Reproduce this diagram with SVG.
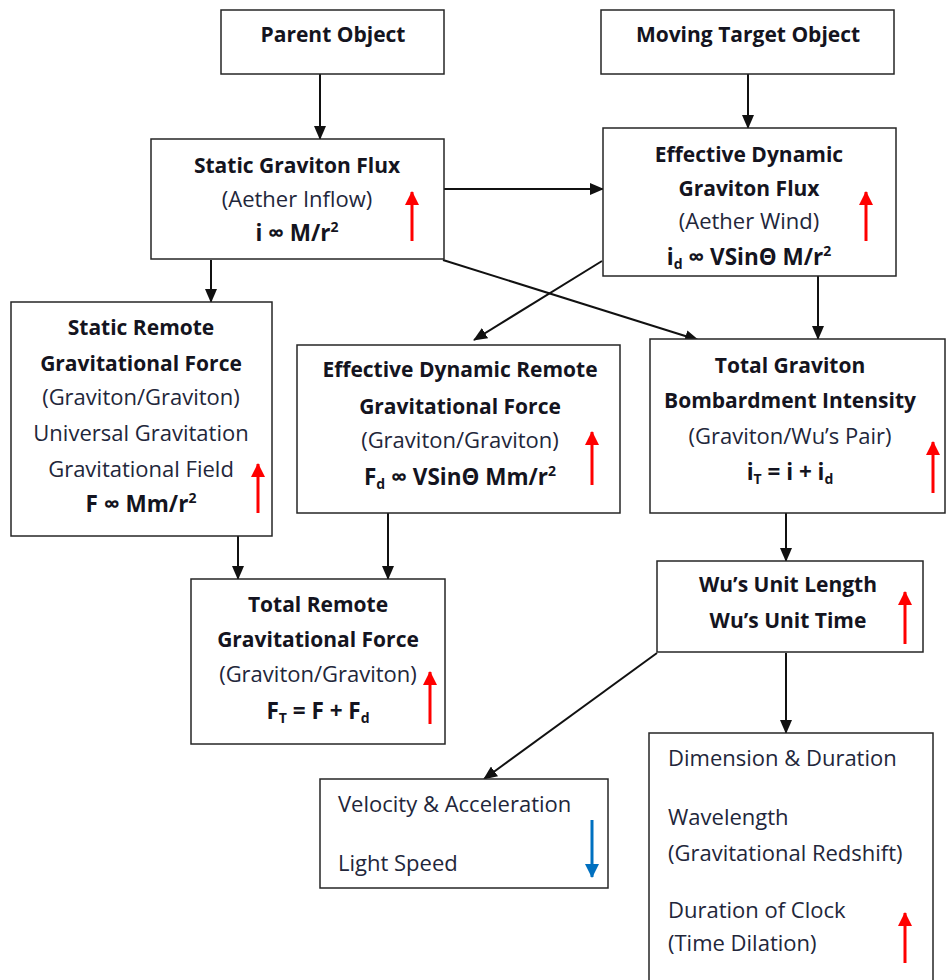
<svg xmlns="http://www.w3.org/2000/svg" width="946" height="980" viewBox="0 0 946 980">
<style>
.box{fill:#fff;stroke:#262626;stroke-width:1.5}
.b{font-family:"Open Sans",Lato,"Liberation Sans",sans-serif;font-weight:bold;font-size:21px;fill:#141420;text-anchor:middle}
.f{font-size:22.5px}
.r{font-family:"Open Sans",Lato,"Liberation Sans",sans-serif;font-size:22px;fill:#22263a;text-anchor:middle}
.l{font-family:"Open Sans",Lato,"Liberation Sans",sans-serif;font-size:22px;fill:#22263a}
.c{stroke:#111;stroke-width:2;fill:none;marker-end:url(#ah)}
.red{stroke:#ff0000;stroke-width:3;marker-end:url(#rh)}
.blue{stroke:#0070c0;stroke-width:3;marker-end:url(#bh)}
</style>
<defs>
<marker id="ah" markerWidth="14" markerHeight="12" refX="13" refY="6" orient="auto" markerUnits="userSpaceOnUse"><path d="M0,0 L14,6 L0,12 Z" fill="#111"/></marker>
<marker id="rh" markerWidth="14" markerHeight="14" refX="13" refY="7" orient="auto" markerUnits="userSpaceOnUse"><path d="M0,0 L14,7 L0,14 Z" fill="#ff0000"/></marker>
<marker id="bh" markerWidth="14" markerHeight="14" refX="13" refY="7" orient="auto" markerUnits="userSpaceOnUse"><path d="M0,0 L14,7 L0,14 Z" fill="#0070c0"/></marker>
</defs>

<g id="connectors">
<line class="c" x1="320" y1="74" x2="320" y2="139"/>
<line class="c" x1="748" y1="74" x2="748" y2="128"/>
<line class="c" x1="444" y1="189" x2="603" y2="189"/>
<line class="c" x1="211" y1="260" x2="211" y2="302"/>
<line class="c" x1="443" y1="260" x2="698" y2="340"/>
<line class="c" x1="602" y1="261" x2="474" y2="340"/>
<line class="c" x1="818" y1="276" x2="818" y2="339"/>
<line class="c" x1="238" y1="536" x2="238" y2="579"/>
<line class="c" x1="388" y1="513" x2="388" y2="579"/>
<line class="c" x1="786" y1="513" x2="786" y2="561"/>
<line class="c" x1="657" y1="653" x2="484" y2="779"/>
<line class="c" x1="786" y1="653" x2="786" y2="733"/>
</g>

<g id="parent">
<rect class="box" x="221" y="10" width="223" height="64"/>
<text class="b" x="333" y="42">Parent Object</text>
</g>

<g id="moving">
<rect class="box" x="601" y="10" width="293" height="64"/>
<text class="b" x="748" y="42">Moving Target Object</text>
</g>

<g id="sgf">
<rect class="box" x="151" y="139" width="293" height="120"/>
<text class="b" x="297" y="173">Static Graviton Flux</text>
<text class="r" x="297" y="207">(Aether Inflow)</text>
<text class="b f" x="297" y="241">i ∞ M/r<tspan font-size="14" dy="-9">2</tspan></text>
<line class="red" x1="412" y1="241" x2="412" y2="192"/>
</g>

<g id="edgf">
<rect class="box" x="603" y="128" width="293" height="148"/>
<text class="b" x="749" y="162">Effective Dynamic</text>
<text class="b" x="749" y="196">Graviton Flux</text>
<text class="r" x="749" y="229">(Aether Wind)</text>
<text class="b f" x="749" y="265">i<tspan font-size="14" dy="4">d</tspan><tspan dy="-4"> ∞ VSinΘ M/r</tspan><tspan font-size="14" dy="-9">2</tspan></text>
<line class="red" x1="866" y1="241" x2="866" y2="192"/>
</g>

<g id="srgf">
<rect class="box" x="11" y="302" width="261" height="234"/>
<text class="b" x="141" y="335">Static Remote</text>
<text class="b" x="141" y="371">Gravitational Force</text>
<text class="r" x="141" y="405">(Graviton/Graviton)</text>
<text class="r" x="141" y="441">Universal Gravitation</text>
<text class="r" x="141" y="477">Gravitational Field</text>
<text class="b f" x="141" y="512">F ∞ Mm/r<tspan font-size="14" dy="-9">2</tspan></text>
<line class="red" x1="258" y1="513" x2="258" y2="464"/>
</g>

<g id="edrgf">
<rect class="box" x="297" y="345" width="323" height="168"/>
<text class="b" x="460" y="377">Effective Dynamic Remote</text>
<text class="b" x="460" y="414">Gravitational Force</text>
<text class="r" x="460" y="448">(Graviton/Graviton)</text>
<text class="b f" x="460" y="485">F<tspan font-size="14" dy="4">d</tspan><tspan dy="-4"> ∞ VSinΘ Mm/r</tspan><tspan font-size="14" dy="-9">2</tspan></text>
<line class="red" x1="592" y1="485" x2="592" y2="432"/>
</g>

<g id="tgbi">
<rect class="box" x="650" y="339" width="295" height="174"/>
<text class="b" x="790" y="373">Total Graviton</text>
<text class="b" x="790" y="408">Bombardment Intensity</text>
<text class="r" x="790" y="444">(Graviton/Wu’s Pair)</text>
<text class="b f" x="790" y="480">i<tspan font-size="14" dy="4">T</tspan><tspan dy="-4"> = i + i</tspan><tspan font-size="14" dy="4">d</tspan></text>
<line class="red" x1="933" y1="493" x2="933" y2="442"/>
</g>

<g id="trgf">
<rect class="box" x="191" y="579" width="254" height="165"/>
<text class="b" x="318" y="612">Total Remote</text>
<text class="b" x="318" y="647">Gravitational Force</text>
<text class="r" x="318" y="682">(Graviton/Graviton)</text>
<text class="b f" x="318" y="719">F<tspan font-size="14" dy="4">T</tspan><tspan dy="-4"> = F + F</tspan><tspan font-size="14" dy="4">d</tspan></text>
<line class="red" x1="430" y1="724" x2="430" y2="672"/>
</g>

<g id="wu">
<rect class="box" x="657" y="561" width="266" height="91"/>
<text class="b" x="788" y="592">Wu’s Unit Length</text>
<text class="b" x="788" y="628">Wu’s Unit Time</text>
<line class="red" x1="905" y1="644" x2="905" y2="592"/>
</g>

<g id="velocity">
<rect class="box" x="320" y="779" width="288" height="109"/>
<text class="l" x="338" y="812">Velocity &amp; Acceleration</text>
<text class="l" x="338" y="871">Light Speed</text>
<line class="blue" x1="592" y1="820" x2="592" y2="877"/>
</g>

<g id="dimension">
<rect class="box" x="649" y="733" width="284" height="260"/>
<text class="l" x="668" y="766">Dimension &amp; Duration</text>
<text class="l" x="668" y="825">Wavelength</text>
<text class="l" x="668" y="861">(Gravitational Redshift)</text>
<text class="l" x="668" y="918">Duration of Clock</text>
<text class="l" x="668" y="951">(Time Dilation)</text>
<line class="red" x1="905" y1="963" x2="905" y2="913"/>
</g>
</svg>
